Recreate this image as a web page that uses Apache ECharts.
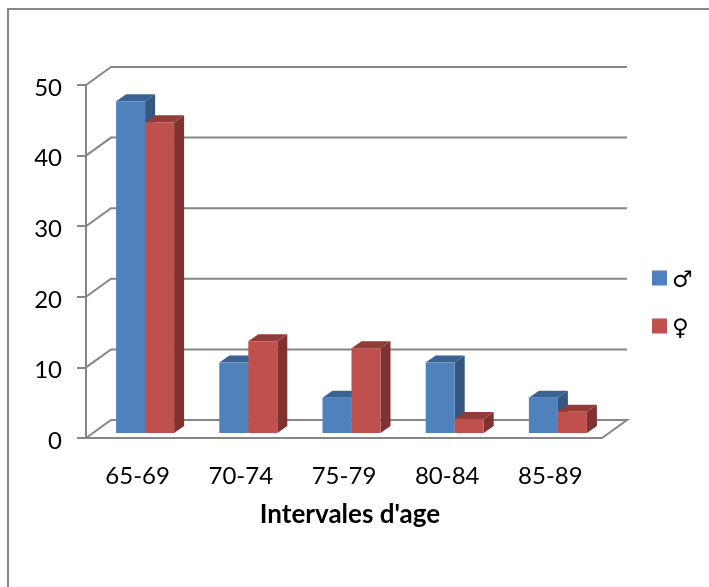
<!DOCTYPE html>
<html>
<head>
<meta charset="utf-8">
<style>
  html, body { margin: 0; padding: 0; background: #fff; }
  #chart { width: 709px; height: 587px; }
</style>
</head>
<body>
<div id="chart"></div>
<script src="https://cdn.jsdelivr.net/npm/echarts@6/dist/echarts.min.js"></script>
<script>
const categories = ["65-69", "70-74", "75-79", "80-84", "85-89"];
const maleValues = [47, 10, 5, 10, 5];
const femaleValues = [44, 13, 12, 2, 3];
const yTicks = [0, 10, 20, 30, 40, 50];

const lineColor = "#868686";
const fontFamily = "Lato, 'DejaVu Sans', sans-serif";

// bars stand in the middle of the floor, walls sit behind the axes
const barW = 29;
const barDx = 10;
const barDy = -7;
const baseDx = 7.5;
const baseDy = -5;
const wallDx = 25;
const wallDy = -18;

const chart = echarts.init(document.getElementById("chart"));

function barItem(side, colors) {
  return function (params, api) {
    const p = api.coord([api.value(0), api.value(1)]);
    const base = api.coord([api.value(0), 0]);
    const x0 = p[0] + baseDx + (side < 0 ? -barW : 0);
    const x1 = x0 + barW;
    const top = p[1] + baseDy;
    const bottom = base[1] + baseDy;
    return {
      type: "group",
      children: [
        {
          type: "polygon",
          shape: { points: [[x1, top], [x1 + barDx, top + barDy], [x1 + barDx, bottom + barDy], [x1, bottom]] },
          style: { fill: colors.side },
        },
        {
          type: "polygon",
          shape: { points: [[x0, top], [x0 + barDx, top + barDy], [x1 + barDx, top + barDy], [x1, top]] },
          style: { fill: colors.top },
        },
        {
          type: "rect",
          shape: { x: x0, y: top, width: barW, height: bottom - top },
          style: { fill: colors.front },
        },
      ],
    };
  };
}

function wallItem(params, api) {
  const rect = params.coordSys;
  const v = api.value(0);
  const y = api.coord([0, v])[1];
  const right = rect.x + rect.width;
  const points = [[rect.x, y], [rect.x + wallDx, y + wallDy], [right + wallDx, y + wallDy]];
  if (v === 0) points.push([right, y]);
  return {
    type: "polyline",
    shape: { points: points },
    style: { stroke: lineColor, lineWidth: 2, fill: null },
  };
}

const option = {
  animation: false,
  backgroundColor: "#fff",
  grid: { left: 86, right: 107, top: 85, bottom: 149 },
  graphic: [
    {
      type: "polyline",
      shape: { points: [[8, 587], [8, 9], [709, 9]] },
      style: { stroke: lineColor, lineWidth: 2, fill: null },
    },
  ],
  legend: {
    orient: "vertical",
    left: 652,
    top: 270,
    padding: 0,
    itemWidth: 15,
    itemHeight: 15,
    itemGap: 25,
    icon: "rect",
    data: ["♂", "♀"],
    formatter: "{sym|{name}}",
    textStyle: {
      rich: {
        sym: { fontFamily: "'DejaVu Sans', sans-serif", fontSize: 23, color: "#000", padding: [7, 0, 0, 0] },
      },
    },
  },
  xAxis: {
    type: "category",
    data: categories,
    axisTick: { show: false },
    axisLine: { lineStyle: { color: lineColor, width: 2 } },
    axisLabel: { color: "#000", fontFamily: fontFamily, fontSize: 24, margin: 26 },
    name: "Intervales d'age",
    nameLocation: "middle",
    nameGap: 64,
    nameTextStyle: { color: "#000", fontFamily: fontFamily, fontSize: 26, fontWeight: "bold", padding: [0, 0, 0, 12] },
  },
  yAxis: {
    type: "value",
    min: 0,
    max: 50,
    interval: 10,
    splitLine: { show: false },
    axisLine: { show: true, lineStyle: { color: lineColor, width: 2 } },
    axisTick: { show: true, length: 9, lineStyle: { color: lineColor, width: 2 } },
    axisLabel: { color: "#000", fontFamily: fontFamily, fontSize: 24, margin: 24, verticalAlign: "top", lineHeight: 6 },
  },
  series: [
    {
      type: "custom",
      name: "walls",
      silent: true,
      z: 1,
      renderItem: wallItem,
      encode: { y: 0 },
      data: yTicks.map((v) => [v]),
    },
    {
      type: "custom",
      name: "♂",
      z: 2,
      itemStyle: { color: "#4F81BD" },
      renderItem: barItem(-1, { front: "#4F81BD", top: "#3B6392", side: "#345781" }),
      encode: { x: 0, y: 1 },
      data: maleValues.map((v, i) => [i, v]),
    },
    {
      type: "custom",
      name: "♀",
      z: 3,
      itemStyle: { color: "#C0504D" },
      renderItem: barItem(1, { front: "#C0504D", top: "#923C3A", side: "#7F3230" }),
      encode: { x: 0, y: 1 },
      data: femaleValues.map((v, i) => [i, v]),
    },
  ],
};

chart.setOption(option);
</script>
</body>
</html>
